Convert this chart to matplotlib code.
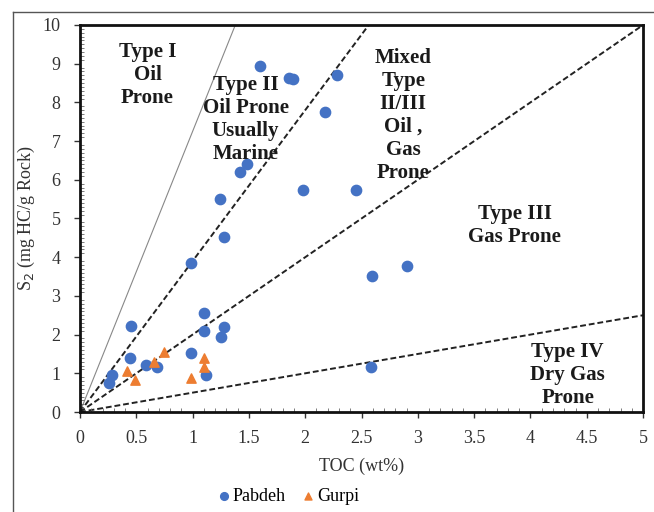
import matplotlib
matplotlib.use('Agg')
import matplotlib.pyplot as plt
from matplotlib.lines import Line2D
from matplotlib.ticker import MultipleLocator
import numpy as np

plt.rcParams['font.family'] = ['Liberation Serif', 'DejaVu Serif']

# Pabdeh samples (TOC wt%, S2 mg HC/g rock)
pabdeh_toc = [0.26, 0.28, 0.45, 0.44, 0.59, 0.68, 0.99, 1.10, 1.10, 1.28, 1.25, 1.12,
              1.60, 1.86, 1.89, 2.28, 2.18, 1.48, 1.42, 1.24, 1.28, 0.99, 1.98, 2.45,
              2.59, 2.90, 2.58]
pabdeh_s2 = [0.75, 0.96, 2.22, 1.40, 1.21, 1.17, 1.53, 2.57, 2.09, 2.20, 1.95, 0.96,
             8.93, 8.62, 8.60, 8.71, 7.74, 6.41, 6.21, 5.50, 4.53, 3.86, 5.74, 5.74,
             3.51, 3.77, 1.17]

# Gurpi samples
gurpi_toc = [0.42, 0.49, 0.66, 0.75, 0.99, 1.10, 1.10]
gurpi_s2 = [1.07, 0.83, 1.30, 1.56, 0.89, 1.39, 1.17]

# kerogen type boundary slopes (S2/TOC)
slope_thin = 7.25
slopes_dashed = [3.9, 2.0, 0.5]

fig = plt.figure(figsize=(6.54, 5.12), dpi=100)
ax = fig.add_axes([0.1223, 0.1953, 0.861, 0.7559])

x = np.array([0, 5])
ax.plot(x, slope_thin * x, color='#888888', lw=0.8, zorder=1)
for s in slopes_dashed:
    ax.plot(x, s * x, color='#222222', lw=1.4, ls=(0, (3, 1.5)), zorder=1)

ax.scatter(pabdeh_toc, pabdeh_s2, s=55, color='#4472C4', marker='o', zorder=3, label='Pabdeh')
ax.scatter(gurpi_toc, gurpi_s2, s=45, color='#ED7D31', marker='^', zorder=3, label='Gurpi')

tk = dict(fontsize=15, fontweight='bold', ha='center', va='center', linespacing=1.2,
          color='#1a1a1a')
ax.text(0.60, 8.7, 'Type I\nOil\nProne', **tk)
ax.text(1.47, 7.56, 'Type II\nOil Prone\nUsually\nMarine', **tk)
ax.text(2.87, 7.67, 'Mixed\nType\nII/III\nOil ,\nGas\nProne', **tk)
ax.text(3.86, 4.83, 'Type III\nGas Prone', **tk)
ax.text(4.33, 0.96, 'Type IV\nDry Gas\nProne', **tk)

ax.set_xlim(0, 5)
ax.set_ylim(0, 10)
ax.yaxis.set_major_locator(MultipleLocator(1))
ax.xaxis.set_minor_locator(MultipleLocator(0.1))
ax.yaxis.set_minor_locator(MultipleLocator(0.1))
ax.set_xticks(np.arange(0, 5.01, 0.5))
ax.set_xticklabels(['0', '0.5', '1', '1.5', '2', '2.5', '3', '3.5', '4', '4.5', '5'])
ax.tick_params(which='major', direction='out', length=4, width=1, labelsize=13, colors='#333333')
ax.tick_params(axis='x', which='major', pad=9)
ax.tick_params(axis='y', which='major', pad=10)
ax.tick_params(which='minor', direction='in', length=3, width=0.6, colors='#666666')
for sp in ax.spines.values():
    sp.set_linewidth(2)
    sp.set_color('#111111')

ax.set_xlabel('TOC (wt%)', fontsize=13, color='#333333', labelpad=8)
ax.set_ylabel('S$_2$ (mg HC/g Rock)', fontsize=13, color='#333333', labelpad=4)

fig.legend(loc='center', bbox_to_anchor=(0.44, 0.03), ncol=2, frameon=False,
           fontsize=13, handlelength=0.8, handletextpad=0.1, columnspacing=0.8,
           markerscale=0.75)

# outer frame of the figure image
fig.add_artist(Line2D([13 / 654, 1], [1 - 12 / 512, 1 - 12 / 512], color='#555555', lw=1))
fig.add_artist(Line2D([13 / 654, 13 / 654], [0, 1 - 12 / 512], color='#555555', lw=1))

fig.savefig('out.png', dpi=100)
